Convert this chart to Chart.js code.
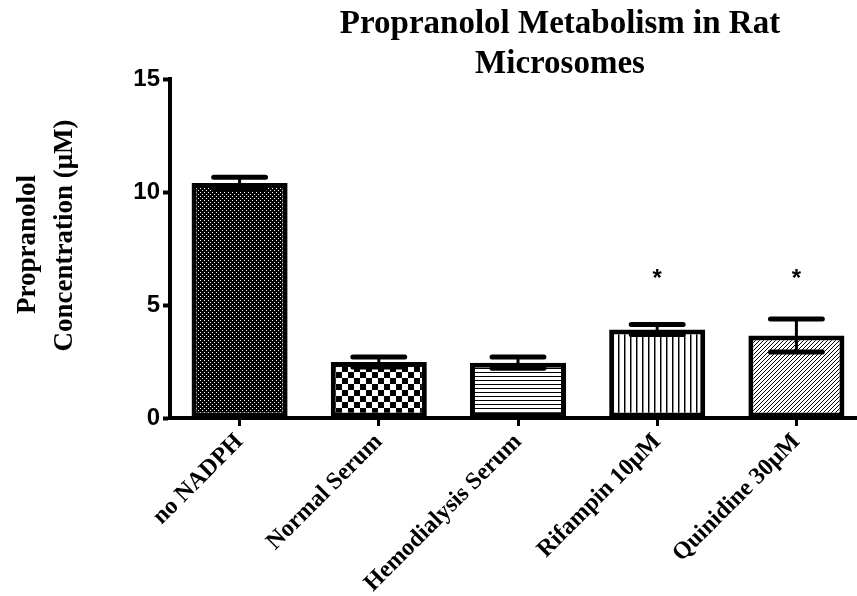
<!DOCTYPE html>
<html>
<head>
<meta charset="utf-8">
<script src="https://cdn.jsdelivr.net/npm/chart.js@4.4.0/dist/chart.umd.min.js"></script>
<style>
    html, body { margin: 0; padding: 0; background: #fff; overflow: hidden; }
    canvas { display: block; }
</style>
</head>
<body>
<canvas id="myChart" width="870" height="596"></canvas>
<script>
// Data
let categories = ['no NADPH', 'Normal Serum', 'Hemodialysis Serum', 'Rifampin 10μM', 'Quinidine 30μM'];
let meanValues = [10.4, 2.48, 2.45, 3.92, 3.65];
let errorValues = [0.25, 0.22, 0.25, 0.22, 0.73];
let starLabels = ['', '', '', '*', '*'];
let starLevel = 6.3;
let yTicks = [0, 5, 10, 15];
let titleLines = ['Propranolol Metabolism in Rat', 'Microsomes'];
let yTitleLines = ['Propranolol', 'Concentration (μM)'];

let ctx = document.getElementById('myChart').getContext('2d');

// Fill patterns for the bars
function makePattern(size, draw) {
    let c = document.createElement('canvas');
    c.width = size;
    c.height = size;
    let g = c.getContext('2d');
    g.fillStyle = '#fff';
    g.fillRect(0, 0, size, size);
    g.fillStyle = '#000';
    g.strokeStyle = '#000';
    draw(g, size);
    return ctx.createPattern(c, 'repeat');
}

let finePattern = makePattern(4, (g, s) => {
    g.fillRect(0, 0, s, s);
    g.fillStyle = '#fff';
    g.fillRect(0, 0, 1, 1);
    g.fillRect(2, 2, 1, 1);
});
let checkPattern = makePattern(12, (g, s) => {
    g.fillRect(0, 0, 6, 6);
    g.fillRect(6, 6, 6, 6);
});
let horizPattern = makePattern(4, (g, s) => {
    g.fillRect(0, 0, s, 1);
});
let vertPattern = makePattern(6, (g, s) => {
    g.fillRect(0, 0, 1, s);
    g.fillStyle = '#888';
    g.fillRect(1, 0, 1, s);
});
let diagPattern = makePattern(4, (g, s) => {
    g.lineWidth = 1;
    g.beginPath();
    g.moveTo(-1, 1); g.lineTo(1, -1);
    g.moveTo(0, s); g.lineTo(s, 0);
    g.moveTo(s - 1, s + 1); g.lineTo(s + 1, s - 1);
    g.stroke();
});
let barPatterns = [finePattern, checkPattern, horizPattern, vertPattern, diagPattern];

// Error bars, stars, axis title and chart title
let extrasPlugin = {
    id: 'extras',
    afterDatasetsDraw(chart) {
        let c = chart.ctx;
        let meta = chart.getDatasetMeta(0);
        let yScale = chart.scales.y;
        c.save();
        c.strokeStyle = '#000';
        c.fillStyle = '#000';
        c.lineCap = 'round';
        meta.data.forEach((bar, i) => {
            let x = bar.x;
            let top = yScale.getPixelForValue(meanValues[i] + errorValues[i]);
            let bottom = yScale.getPixelForValue(meanValues[i] - errorValues[i]);
            let half = bar.width * 0.27;
            c.lineWidth = 3;
            c.beginPath();
            c.moveTo(x, top);
            c.lineTo(x, bottom);
            c.stroke();
            c.lineWidth = 5;
            c.beginPath();
            c.moveTo(x - half, top); c.lineTo(x + half, top);
            c.moveTo(x - half, bottom); c.lineTo(x + half, bottom);
            c.stroke();
            if (starLabels[i]) {
                c.font = 'bold 24px "Liberation Sans", Arial';
                c.textAlign = 'center';
                c.textBaseline = 'middle';
                c.fillText(starLabels[i], x, yScale.getPixelForValue(starLevel) + 4);
            }
        });

        // y axis title, two rotated lines
        c.font = 'bold 27px "Liberation Serif", "Times New Roman"';
        c.textAlign = 'center';
        c.textBaseline = 'middle';
        let mid = (chart.chartArea.top + chart.chartArea.bottom) / 2;
        [[28, mid - 4], [65, mid - 13]].forEach((p, i) => {
            c.save();
            c.translate(p[0], p[1]);
            c.rotate(-Math.PI / 2);
            c.fillText(yTitleLines[i], 0, 0);
            c.restore();
        });

        // Chart title
        c.font = 'bold 33px "Liberation Serif", "Times New Roman"';
        c.textAlign = 'center';
        c.textBaseline = 'alphabetic';
        c.fillText(titleLines[0], 560, 33);
        c.fillText(titleLines[1], 560, 73);
        c.restore();
    }
};

let myChart = new Chart(ctx, {
    type: 'bar',
    data: {
        labels: categories,
        datasets: [{
            data: meanValues,
            backgroundColor: barPatterns,
            borderColor: '#000',
            borderWidth: 5,
            borderSkipped: false,
            barPercentage: 0.69,
            categoryPercentage: 1.0
        }]
    },
    options: {
        responsive: false,
        animation: false,
        layout: { padding: { top: 79, right: 4, left: 0, bottom: 0 } },
        plugins: {
            legend: { display: false },
            tooltip: { enabled: false },
            title: { display: false }
        },
        scales: {
            x: {
                offset: true,
                grid: { display: true, drawOnChartArea: false, offset: false, tickLength: 8, tickWidth: 3, tickColor: '#000' },
                border: { display: true, width: 4, color: '#000' },
                ticks: {
                    autoSkip: false,
                    maxRotation: 45,
                    minRotation: 45,
                    padding: 2,
                    color: '#000',
                    font: { family: '"Liberation Serif", "Times New Roman"', weight: 'bold', size: 24 }
                },
                afterFit: scale => { scale.height = 178; }
            },
            y: {
                min: 0,
                max: 15,
                afterBuildTicks: scale => { scale.ticks = yTicks.map(v => ({ value: v })); },
                grid: { display: true, drawOnChartArea: false, tickLength: 7, tickWidth: 4, tickColor: '#000' },
                border: { display: true, width: 4, color: '#000' },
                ticks: {
                    padding: 3,
                    color: '#000',
                    font: { family: '"Liberation Sans", Arial', weight: 'bold', size: 24 }
                },
                afterFit: scale => { scale.width = 170; }
            }
        }
    },
    plugins: [extrasPlugin]
});
</script>
</body>
</html>
